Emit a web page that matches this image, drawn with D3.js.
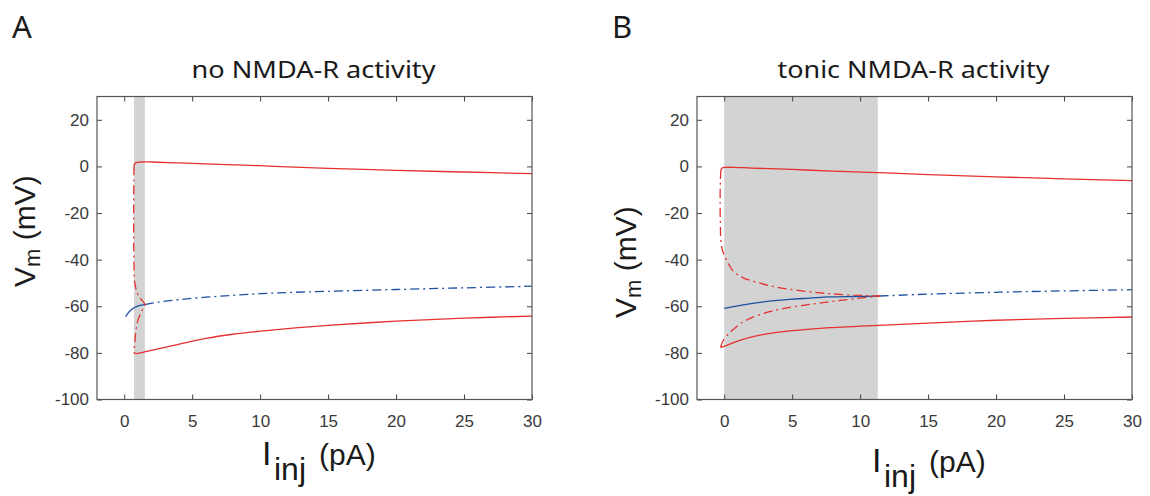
<!DOCTYPE html>
<html>
<head>
<meta charset="utf-8">
<script src="https://cdn.jsdelivr.net/npm/d3@7"></script>
<style>
body { margin: 0; background: #fff; }
</style>
</head>
<body>
<div id="chart"></div>
<script>
const xTicks = [0, 5, 10, 15, 20, 25, 30];
const yTicks = [-100, -80, -60, -40, -20, 0, 20];
const xDomain = [-2, 30];
const yDomain = [-100, 30];

// A: no NMDA-R activity  (pairs are [I_inj pA, V_m mV])
const aBand = [0.72, 1.52];
const aHigh = [[0.72,0],[0.76,1.0],[0.88,1.6],[1.2,1.9],[2,1.9],[4,1.5],[6,1.1],[8,0.7],[10,0.3],[12,-0.2],[15,-0.8],[20,-1.7],[25,-2.4],[30,-3.1]];
const aSaddle = [[0.72,0],[0.7,-15],[0.7,-30],[0.72,-42],[0.78,-50],[0.98,-54.5],[1.25,-57],[1.52,-59.3],[1.3,-62],[1.05,-65.3],[0.9,-69],[0.82,-73],[0.76,-77],[0.72,-80]];
const aLow = [[0.72,-80],[0.9,-80.3],[1.2,-80.0],[2,-78.9],[3,-77.6],[4,-76.3],[6,-73.8],[8,-72.0],[10,-70.7],[12,-69.6],[15,-68.2],[20,-66.4],[25,-65.1],[30,-64.2]];
const aBlueSolid = [[0.1,-64.5],[0.3,-62.8],[0.5,-61.6],[0.8,-60.4],[1.1,-59.7],[1.52,-59.3]];
const aBlueDash = [[1.52,-59.3],[2.5,-58.2],[4,-57.2],[6,-56.1],[8,-55.3],[10,-54.6],[12,-54.1],[15,-53.6],[20,-52.8],[25,-52.1],[30,-51.4]];

// B: tonic NMDA-R activity
const bBand = [0, 11.3];
const bHigh = [[-0.24,-1.5],[-0.15,-0.7],[0.1,-0.4],[0.7,-0.4],[2,-0.7],[5,-1.3],[8,-2.0],[11.4,-2.7],[15,-3.5],[20,-4.5],[25,-5.3],[30,-6.1]];
const bSaddleUp = [[-0.24,-1.5],[-0.28,-6],[-0.3,-15],[-0.28,-25],[-0.24,-32],[-0.1,-36.5],[0.2,-40.5],[0.66,-44.9],[1.4,-47.8],[2.4,-49.7],[3.5,-51.4],[4.8,-52.7],[6.3,-53.8],[7.75,-54.6],[9.5,-55.2],[11.45,-55.6]];
const bSaddleLow = [[-0.26,-77.6],[-0.1,-75],[0.3,-72],[0.7,-69.8],[1.15,-67.6],[1.7,-65.8],[2.37,-64.1],[3.5,-62.1],[4.8,-60.5],[6.3,-59.2],[7.75,-58.1],[9.5,-56.8],[11.45,-55.6]];
const bLow = [[-0.26,-77.6],[0,-77.2],[0.5,-76],[1.2,-74.5],[2.37,-72.7],[3.5,-71.5],[4.8,-70.6],[6.3,-69.8],[7.75,-69.2],[9.5,-68.7],[11.4,-68.2],[15,-67.2],[20,-66.0],[25,-65.2],[30,-64.6]];
const bBlueSolid = [[0,-60.9],[1,-59.8],[2.37,-58.5],[3.5,-57.7],[4.8,-57.0],[6.3,-56.5],[7.75,-56.0],[9.5,-55.8],[11.45,-55.6]];
const bBlueDash = [[11.45,-55.6],[15,-54.8],[20,-54.0],[25,-53.4],[30,-52.9]];

const red = "#e4302f";
const blue = "#1d4f9f";
const dashDot = "9,4,2,4";

const panels = [
	{ letter: "A", title: "no NMDA-R activity", titleW: 244, ox: 0, band: aBand,
		ylab: [35, 287], xlab: [262, 465],
		curves: [
			{ d: aBlueSolid, c: blue, dash: null },
			{ d: aBlueDash, c: blue, dash: dashDot },
			{ d: aHigh, c: red, dash: null },
			{ d: aLow, c: red, dash: null },
			{ d: aSaddle, c: red, dash: dashDot }
		] },
	{ letter: "B", title: "tonic NMDA-R activity", titleW: 272, ox: 600, band: bBand,
		ylab: [636, 318], xlab: [872, 472],
		curves: [
			{ d: bBlueSolid, c: blue, dash: null },
			{ d: bBlueDash, c: blue, dash: dashDot },
			{ d: bHigh, c: red, dash: null },
			{ d: bLow, c: red, dash: null },
			{ d: bSaddleUp, c: red, dash: dashDot },
			{ d: bSaddleLow, c: red, dash: dashDot }
		] }
];

const svg = d3.select("#chart")
	.append("svg")
	.attr("width", 1150)
	.attr("height", 496);

function drawPanel(p) {
	const left = 97 + p.ox, right = 532 + p.ox, top = 96.5, bottom = 399.5;

	const x = d3.scaleLinear().domain(xDomain).range([left, right]);
	const y = d3.scaleLinear().domain(yDomain).range([bottom, top]);

	const g = svg.append("g");

	// shaded bistable region
	g.append("rect")
		.attr("x", x(p.band[0]))
		.attr("y", top)
		.attr("width", x(p.band[1]) - x(p.band[0]))
		.attr("height", bottom - top)
		.attr("fill", "#d3d3d3");

	const line = d3.line()
		.x(d => x(d[0]))
		.y(d => y(d[1]))
		.curve(d3.curveCatmullRom.alpha(0.5));

	p.curves.forEach(function(c) {
		g.append("path")
			.attr("d", line(c.d))
			.attr("fill", "none")
			.attr("stroke", c.c)
			.attr("stroke-width", 1.3)
			.attr("stroke-dasharray", c.dash);
	});

	// axes, ticks pointing inwards, box all round
	const tickCol = "#444";
	const plain = d => String(d);   // keep a plain hyphen for negatives
	const ax = [
		g.append("g").attr("transform", `translate(0,${bottom})`)
			.call(d3.axisBottom(x).tickValues(xTicks).tickFormat(plain).tickSizeInner(-5).tickSizeOuter(0).tickPadding(15)),
		g.append("g").attr("transform", `translate(${left},0)`)
			.call(d3.axisLeft(y).tickValues(yTicks).tickFormat(plain).tickSizeInner(-5).tickSizeOuter(0).tickPadding(8)),
		g.append("g").attr("transform", `translate(0,${top})`)
			.call(d3.axisTop(x).tickValues(xTicks).tickSizeInner(-5).tickSizeOuter(0).tickFormat("")),
		g.append("g").attr("transform", `translate(${right},0)`)
			.call(d3.axisRight(y).tickValues(yTicks).tickSizeInner(-5).tickSizeOuter(0).tickFormat(""))
	];
	ax.forEach(function(a) {
		a.select(".domain").remove();
		a.selectAll("line").attr("stroke", tickCol);
		a.selectAll("text")
			.attr("font-family", "'Liberation Sans', Arial, sans-serif")
			.attr("font-size", "17px")
			.attr("fill", "#3a3a3a");
	});

	g.append("rect")
		.attr("x", left)
		.attr("y", top)
		.attr("width", right - left)
		.attr("height", bottom - top)
		.attr("fill", "none")
		.attr("stroke", "#555")
		.attr("stroke-width", 1.2);

	// panel letter and title
	g.append("text")
		.attr("x", 12 + p.ox)
		.attr("y", 38)
		.attr("font-family", "'Noto Sans', sans-serif")
		.attr("font-size", "31px")
		.attr("fill", "#1a1a1a")
		.text(p.letter);

	g.append("text")
		.attr("x", (left + right) / 2 - 1)
		.attr("y", 78)
		.attr("text-anchor", "middle")
		.attr("font-family", "'Noto Sans', sans-serif")
		.attr("font-size", "23px")
		.attr("textLength", p.titleW)
		.attr("lengthAdjust", "spacingAndGlyphs")
		.attr("fill", "#1a1a1a")
		.text(p.title);

	// y label V_m (mV)
	const yl = g.append("text")
		.attr("transform", `translate(${p.ylab[0]},${p.ylab[1]}) rotate(-90)`)
		.attr("font-family", "'Liberation Sans', Arial, sans-serif")
		.attr("fill", "#1a1a1a");
	yl.append("tspan").attr("font-size", "30px").text("V");
	yl.append("tspan").attr("font-size", "22px").attr("dy", 5).text("m");
	yl.append("tspan").attr("font-size", "30px").attr("dy", -5).text(" (mV)");

	// x label I_inj (pA)
	const x0 = p.xlab[0], yb = p.xlab[1];
	const xl = g.append("text")
		.attr("font-family", "'Liberation Sans', Arial, sans-serif")
		.attr("fill", "#1a1a1a");
	xl.append("tspan").attr("x", x0).attr("y", yb).attr("font-size", "34px").text("I");
	xl.append("tspan").attr("x", x0 + 12).attr("y", yb + 15).attr("font-size", "32px").text("inj");
	xl.append("tspan").attr("x", x0 + 57).attr("y", yb).attr("font-size", "30px").text("(pA)");
}

panels.forEach(drawPanel);
</script>
</body>
</html>
